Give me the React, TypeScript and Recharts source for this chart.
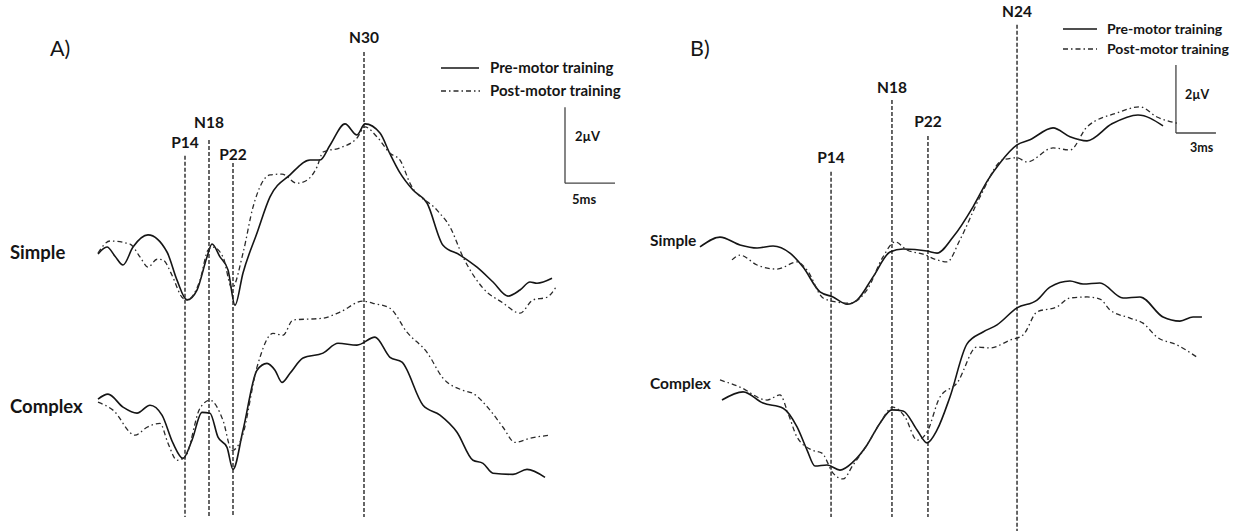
import { LineChart, Line, XAxis, YAxis, ReferenceLine } from "recharts";

type Pt = [number, number];

// Panel A traces: [time (ms), amplitude (µV)]
const simplePreA: Pt[] = [[0.1,0.03],[1.0,0.21],[1.8,-0.03],[2.6,-0.26],[3.6,0.21],[5.1,0.53],[7.0,0.08],[8.0,-0.66],[9.0,-1.18],[10.0,-0.92],[11.0,-0.05],[11.5,0.29],[12.3,-0.05],[13.1,-0.39],[13.8,-1.32],[14.6,-0.47],[16.0,0.58],[17.3,1.53],[19.3,2.11],[21.3,2.5],[22.3,2.5],[23.3,2.89],[24.8,3.45],[26.0,3.16],[26.8,3.45],[28.3,3.21],[29.3,2.66],[30.3,2.16],[31.6,1.71],[33.0,1.37],[34.6,0.26],[36.3,0],[38.0,-0.32],[39.6,-0.71],[41.1,-1.08],[42.3,-0.92],[43.3,-0.71],[44.0,-0.74],[45.5,-0.61]];
const simplePostA: Pt[] = [[0.1,0.05],[1.3,0.37],[3.3,0.29],[4.3,-0.05],[5.1,-0.32],[6.0,-0.11],[6.6,-0.13],[7.5,-0.53],[8.5,-1.11],[9.0,-1.18],[10.3,-0.66],[11.1,0.13],[11.6,0.21],[12.6,-0.05],[13.5,-0.87],[14.6,0.05],[15.6,1.26],[17.3,2.11],[18.5,2.13],[20.0,1.89],[21.0,1.97],[22.0,2.32],[22.6,2.71],[24.3,2.82],[26.0,3.08],[26.8,3.37],[28.0,3.11],[29.3,2.68],[30.3,2.5],[31.3,1.89],[34.0,1.18],[35.3,0.74],[36.6,-0.05],[38.6,-0.87],[40.6,-1.26],[42.3,-1.53],[43.6,-1.18],[45.0,-1.11],[45.9,-0.84]];
const complexPreA: Pt[] = [[0.1,0.03],[1.1,0.16],[2.6,-0.18],[4.0,-0.34],[5.3,-0.13],[6.5,-0.39],[7.6,-1.13],[8.6,-1.53],[9.5,-1.05],[10.5,-0.32],[11.3,-0.34],[12.1,-0.97],[13.0,-1.24],[13.6,-1.82],[14.6,-0.79],[16.0,0.79],[17.0,0.97],[17.8,0.79],[18.5,0.47],[19.3,0.71],[20.6,1.11],[22.6,1.24],[24.1,1.5],[26.0,1.45],[27.8,1.66],[29.3,1.13],[30.5,1.0],[32.6,-0.13],[34.3,-0.39],[36.0,-0.84],[37.6,-1.58],[38.6,-1.66],[39.6,-1.92],[41.6,-1.95],[43.0,-1.82],[44.8,-2.03]];
const complexPostA: Pt[] = [[0.1,-0.05],[1.6,-0.26],[3.8,-0.92],[5.0,-0.71],[6.3,-0.61],[7.1,-1.13],[8.0,-1.58],[8.8,-1.5],[10.3,-0.21],[11.3,0],[12.6,-0.53],[13.5,-1.32],[14.5,-0.97],[16.0,0.87],[17.6,1.76],[18.6,1.71],[19.6,2.11],[22.6,2.16],[24.3,2.32],[26.6,2.61],[27.6,2.55],[29.3,2.42],[31.0,1.79],[33.0,1.26],[34.6,0.58],[36.6,0.26],[37.6,0.18],[39.3,-0.26],[40.6,-0.71],[41.8,-1.11],[43.3,-1.0],[45.3,-0.92]];

// Panel B traces
const simplePreB: Pt[] = [[0,0],[1.5,0.29],[3.0,0.06],[4.28,-0.03],[5.48,0.03],[6.75,-0.18],[7.73,-0.59],[9.0,-1.32],[9.98,-1.47],[11.03,-1.68],[11.78,-1.56],[12.98,-0.88],[14.25,-0.15],[15.23,-0.06],[17.03,-0.12],[17.78,-0.18],[18.98,0.29],[20.48,1.18],[21.6,1.97],[22.5,2.47],[23.78,3.0],[24.75,3.15],[26.48,3.5],[27.75,3.24],[29.03,3.12],[30.9,3.62],[32.85,3.88],[34.73,3.56]];
const simplePostB: Pt[] = [[2.4,-0.38],[3.0,-0.24],[4.28,-0.53],[5.78,-0.65],[7.28,-0.44],[8.03,-0.68],[9.23,-1.5],[10.28,-1.62],[11.25,-1.65],[12.53,-1.26],[13.73,-0.29],[14.63,0.15],[15.53,-0.09],[16.73,-0.21],[17.78,-0.38],[18.53,-0.44],[19.5,0.21],[21.0,1.47],[22.73,2.56],[23.78,2.62],[24.53,2.5],[26.48,2.91],[27.75,2.85],[29.03,3.53],[31.28,3.94],[33.0,4.12],[34.28,3.82],[36.0,3.62]];
const complexPreB: Pt[] = [[1.65,0],[3.23,0.24],[4.73,-0.09],[6.23,-0.24],[7.28,-0.79],[8.03,-1.47],[8.63,-1.94],[9.53,-1.91],[10.5,-2.06],[11.48,-1.82],[12.53,-1.32],[13.5,-0.68],[14.4,-0.29],[15.23,-0.32],[16.28,-0.88],[17.03,-1.26],[17.78,-0.88],[18.75,0.09],[20.03,1.65],[21.23,2.0],[22.28,2.21],[23.78,2.71],[25.28,2.94],[26.25,3.32],[27.75,3.5],[28.73,3.41],[30.0,3.44],[31.73,3.0],[33.0,3.03],[34.73,2.44],[36.0,2.32],[36.98,2.44],[37.65,2.44]];
const complexPostB: Pt[] = [[1.5,0.59],[3.0,0.38],[5.03,0],[6.0,0.15],[6.6,-0.38],[7.28,-1.09],[8.4,-1.47],[9.15,-1.56],[9.98,-2.15],[10.73,-2.32],[11.48,-1.91],[12.53,-1.32],[13.5,-0.68],[14.48,-0.21],[15.38,-0.5],[16.28,-1.18],[17.03,-0.94],[18.0,0.09],[19.28,0.5],[20.78,1.56],[21.75,1.53],[23.25,1.76],[24.23,1.91],[25.28,2.59],[26.78,2.74],[27.75,3.0],[29.03,3.03],[30.0,2.97],[30.75,2.65],[32.25,2.41],[33.23,2.26],[34.28,1.85],[35.78,1.62],[37.28,1.26]];

// peak markers
const peakNamesA = ["P14", "N18", "P22", "N30"];
const peakTimesA = [8.8, 11.2, 13.6, 26.7];
const peakNamesB = ["P14", "N18", "P22", "N24"];
const peakTimesB = [9.83, 14.4, 17.1, 23.78];

const seriesNames = ["Pre-motor training", "Post-motor training"];

const INK = "#151515";
const DASHDOT = "5 3 1.5 3";
const FONT = "Lato, 'Open Sans', sans-serif";

const toRows = (pts: Pt[], offset = 0) =>
  pts.map(([t, v]) => ({ t, v: +(v + offset).toFixed(2) }));

interface PanelProps {
  left: number;
  width: number;
  xDomain: [number, number];
  yDomain: [number, number];
  complexOffset: number;
  simplePre: Pt[];
  simplePost: Pt[];
  complexPre: Pt[];
  complexPost: Pt[];
  names: string[];
  times: number[];
  tops: number[];
  bottoms: number[];
  labelOffsets: number[];
  bar: { t: number; top: number; bottom: number; len: number };
}

function Panel(p: PanelProps) {
  const traces = [
    { id: "sp", rows: toRows(p.simplePre), dashed: false },
    { id: "spo", rows: toRows(p.simplePost), dashed: true },
    { id: "cp", rows: toRows(p.complexPre, p.complexOffset), dashed: false },
    { id: "cpo", rows: toRows(p.complexPost, p.complexOffset), dashed: true },
  ];
  return (
    <div style={{ position: "absolute", left: p.left, top: 0 }}>
      <LineChart width={p.width} height={531} margin={{ top: 0, right: 0, bottom: 0, left: 0 }}>
        <XAxis dataKey="t" type="number" domain={p.xDomain} allowDataOverflow hide />
        <YAxis type="number" domain={p.yDomain} allowDataOverflow hide />
        {p.names.map((n, i) => (
          <ReferenceLine
            key={n}
            ifOverflow="visible"
            segment={[{ x: p.times[i], y: p.tops[i] }, { x: p.times[i], y: p.bottoms[i] }]}
            stroke={INK}
            strokeWidth={1.3}
            strokeDasharray="4 2"
            label={{
              value: n,
              position: "top",
              offset: p.labelOffsets[i],
              fill: INK,
              fontSize: 15.5,
              fontWeight: 700,
              fontFamily: FONT,
            }}
          />
        ))}
        <ReferenceLine
          ifOverflow="visible"
          segment={[{ x: p.bar.t, y: p.bar.top }, { x: p.bar.t, y: p.bar.bottom }]}
          stroke="#444"
          strokeWidth={1.3}
        />
        <ReferenceLine
          ifOverflow="visible"
          segment={[{ x: p.bar.t, y: p.bar.bottom }, { x: p.bar.t + p.bar.len, y: p.bar.bottom }]}
          stroke="#444"
          strokeWidth={1.3}
        />
        {traces.map((tr) => (
          <Line
            key={tr.id}
            data={tr.rows}
            dataKey="v"
            type="monotone"
            stroke={tr.dashed ? "#2a2a2a" : INK}
            strokeWidth={tr.dashed ? 1.3 : 1.6}
            strokeDasharray={tr.dashed ? DASHDOT : undefined}
            dot={false}
            activeDot={false}
            isAnimationActive={false}
          />
        ))}
      </LineChart>
    </div>
  );
}

export default function App() {
  const txt = { fontFamily: FONT, fill: INK };
  return (
    <div style={{ position: "absolute", left: 0, top: 0, width: 1239, height: 531, background: "#fff", overflow: "hidden" }}>
      <Panel
        left={0}
        width={620}
        xDomain={[-9.7, 52.3]}
        yDomain={[-7.26, 6.71]}
        complexOffset={-3.82}
        simplePre={simplePreA}
        simplePost={simplePostA}
        complexPre={complexPreA}
        complexPost={complexPostA}
        names={peakNamesA}
        times={peakTimesA}
        tops={[2.61, 3.03, 2.42, 5.34]}
        bottoms={[-6.89, -6.89, -6.89, -6.89]}
        labelOffsets={[8, 12, 3, 9]}
        bar={{ t: 46.8, top: 3.89, bottom: 1.89, len: 5 }}
      />
      <Panel
        left={620}
        width={619}
        xDomain={[-6.0, 40.43]}
        yDomain={[-8.35, 7.26]}
        complexOffset={-4.5}
        simplePre={simplePreB}
        simplePost={simplePostB}
        complexPre={complexPreB}
        complexPost={complexPostB}
        names={peakNamesB}
        times={peakTimesB}
        tops={[2.21, 4.32, 3.26, 6.53]}
        bottoms={[-7.94, -7.94, -7.94, -8.35]}
        labelOffsets={[9, 7, 9, 8]}
        bar={{ t: 35.7, top: 5.35, bottom: 3.35, len: 3 }}
      />
      <svg width={1239} height={531} style={{ position: "absolute", left: 0, top: 0, pointerEvents: "none" }}>
        <text x={50} y={56} fontSize={21.5} {...txt}>A)</text>
        <text x={690} y={56} fontSize={21.5} {...txt}>B)</text>
        <text x={10} y={259} fontSize={18.5} fontWeight={700} {...txt}>Simple</text>
        <text x={10} y={413} fontSize={18.5} fontWeight={700} {...txt}>Complex</text>
        <text x={650} y={246} fontSize={15.5} fontWeight={700} {...txt}>Simple</text>
        <text x={650} y={389} fontSize={15.5} fontWeight={700} {...txt}>Complex</text>
        <text x={575} y={141} fontSize={13} fontWeight={700} {...txt}>2µV</text>
        <text x={572} y={204} fontSize={13} fontWeight={700} {...txt}>5ms</text>
        <text x={1185} y={99} fontSize={12.5} fontWeight={700} {...txt}>2µV</text>
        <text x={1190} y={152} fontSize={12.5} fontWeight={700} {...txt}>3ms</text>
        {/* legend A */}
        <line x1={441} x2={479} y1={68} y2={68} stroke={INK} strokeWidth={1.6} />
        <text x={490} y={73} fontSize={15} fontWeight={700} {...txt}>{seriesNames[0]}</text>
        <line x1={441} x2={480} y1={91} y2={91} stroke="#2a2a2a" strokeWidth={1.3} strokeDasharray={DASHDOT} />
        <text x={490} y={96} fontSize={15} fontWeight={700} {...txt}>{seriesNames[1]}</text>
        {/* legend B */}
        <line x1={1063} x2={1097} y1={29} y2={29} stroke={INK} strokeWidth={1.6} />
        <text x={1107} y={34} fontSize={14} fontWeight={700} {...txt}>{seriesNames[0]}</text>
        <line x1={1063} x2={1097} y1={49} y2={49} stroke="#2a2a2a" strokeWidth={1.3} strokeDasharray={DASHDOT} />
        <text x={1107} y={54} fontSize={14} fontWeight={700} {...txt}>{seriesNames[1]}</text>
      </svg>
    </div>
  );
}
